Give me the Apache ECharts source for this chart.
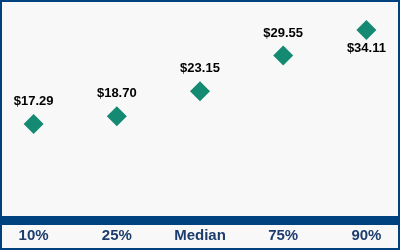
<!DOCTYPE html>
<html>
<head>
<meta charset="utf-8">
<script src="https://cdn.jsdelivr.net/npm/echarts@6/dist/echarts.min.js"></script>
<style>
  html, body { margin: 0; padding: 0; }
  #chart {
    width: 400px;
    height: 250px;
    box-sizing: border-box;
    border: 2px solid #00407f;
    background: #f8f8f8;
  }
</style>
</head>
<body>
<div id="chart"></div>
<script>
const categories = ['10%', '25%', 'Median', '75%', '90%']
const values = [17.29, 18.70, 23.15, 29.55, 34.11]
// last label sits below its marker
const labelBelow = [false, false, false, false, true]

const chart = echarts.init(document.getElementById('chart'))

chart.setOption({
  animation: false,
  grid: { top: -2, bottom: 27.4, left: -10, right: -10, outerBoundsMode: 'none' },
  xAxis: {
    type: 'category',
    data: categories,
    axisTick: { show: false },
    axisLine: { lineStyle: { color: '#00427f', width: 9 } },
    axisLabel: {
      color: '#1c3d6e',
      fontFamily: 'Liberation Sans, Arial',
      fontWeight: 'bold',
      fontSize: 15,
      margin: 8
    }
  },
  yAxis: {
    type: 'value',
    min: 0,
    max: 39.5,
    show: false,
    splitLine: { show: false }
  },
  series: [{
    type: 'scatter',
    symbol: 'diamond',
    symbolSize: 20,
    itemStyle: { color: '#148a72', opacity: 1 },
    data: values.map((v, i) => ({
      value: v,
      label: { position: labelBelow[i] ? 'bottom' : 'top', distance: labelBelow[i] ? 2 : 6 }
    })),
    label: {
      show: true,
      color: '#000',
      fontFamily: 'Liberation Sans, Arial',
      fontWeight: 'bold',
      fontSize: 13,
      formatter: p => '$' + p.value.toFixed(2)
    }
  }]
})
</script>
</body>
</html>
